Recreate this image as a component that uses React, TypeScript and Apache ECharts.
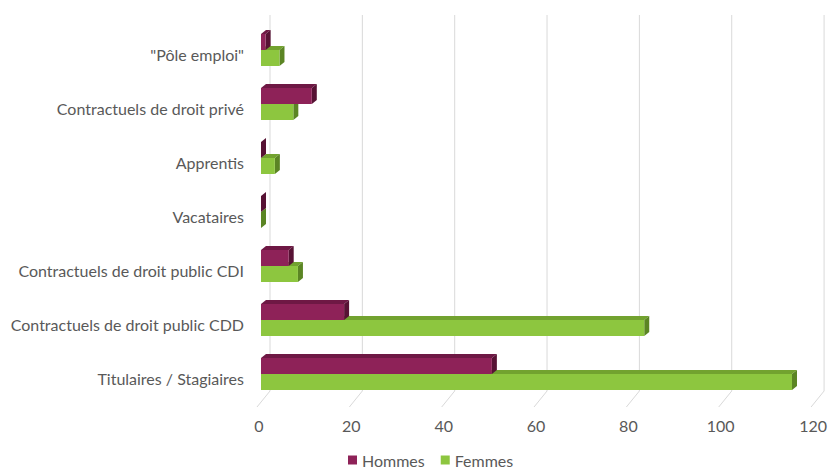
import React, { useEffect, useRef } from "react";
import * as echarts from "echarts";

const categories = [
  '"Pôle emploi"',
  "Contractuels de droit privé",
  "Apprentis",
  "Vacataires",
  "Contractuels de droit public CDI",
  "Contractuels de droit public CDD",
  "Titulaires / Stagiaires",
];
const hommes = [1, 11, 0, 0, 6, 18, 50];
const femmes = [4, 7, 3, 0, 8, 83, 115];
const xTicks = [0, 20, 40, 60, 80, 100, 120];

const BAR_H = 16;
const DX = 5;
const DY = 4;
const FONT = "Lato, 'Open Sans', sans-serif";

const palette = {
  Hommes: { front: "#8E2258", top: "#6E1844", side: "#571234" },
  Femmes: { front: "#8DC63F", top: "#72A22F", side: "#5B8524" },
};

function makeRender(offsetTop: number, c: { front: string; top: string; side: string }) {
  return (params: any, api: any) => {
    const v = api.value(0);
    const ci = api.value(1);
    const p0 = api.coord([0, ci]);
    const p1 = api.coord([v, ci]);
    const x0 = p0[0];
    const x1 = p1[0];
    const yTop = p0[1] + offsetTop;
    const yBot = yTop + BAR_H;
    return {
      type: "group",
      children: [
        {
          type: "polygon",
          shape: { points: [[x0, yTop], [x0 + DX, yTop - DY], [x1 + DX, yTop - DY], [x1, yTop]] },
          style: { fill: c.top },
        },
        {
          type: "polygon",
          shape: { points: [[x1, yTop], [x1 + DX, yTop - DY], [x1 + DX, yBot - DY], [x1, yBot]] },
          style: { fill: c.side },
        },
        {
          type: "rect",
          shape: { x: x0, y: yTop, width: Math.max(0, x1 - x0), height: BAR_H },
          style: { fill: c.front },
        },
      ],
    };
  };
}

function renderGridLine(params: any, api: any) {
  const t = api.value(0);
  const p = api.coord([t, 0]);
  const cs = params.coordSys;
  const bx = p[0] + 9;
  const topY = cs.y - 12;
  const botY = cs.y + cs.height - 14;
  return {
    type: "group",
    children: [
      {
        type: "line",
        shape: { x1: bx, y1: topY, x2: bx, y2: botY },
        style: { stroke: "#D9D9D9", lineWidth: 1 },
      },
      {
        type: "line",
        shape: { x1: bx, y1: botY, x2: bx - 13, y2: botY + 16 },
        style: { stroke: "#D9D9D9", lineWidth: 1 },
      },
    ],
  };
}

export default function App() {
  const ref = useRef<HTMLDivElement>(null);
  useEffect(() => {
    document.body.style.margin = "0";
    if (!ref.current) return;
    const chart = echarts.init(ref.current, undefined, { renderer: "svg" });
    chart.setOption({
      animation: false,
      backgroundColor: "#ffffff",
      textStyle: { fontFamily: FONT },
      grid: { left: 261, right: 9, top: 27, bottom: 70 },
      xAxis: {
        type: "value",
        min: 0,
        max: 120,
        interval: 20,
        splitLine: { show: false },
        axisLine: { show: false },
        axisTick: { show: false },
        axisLabel: {
          margin: 12,
          color: "#595959",
          fontSize: 16,
          fontFamily: FONT,
          padding: [0, 4, 0, 0],
        },
      },
      yAxis: {
        type: "category",
        data: categories,
        inverse: true,
        axisLine: { show: false },
        axisTick: { show: false },
        axisLabel: { margin: 17, color: "#595959", fontSize: 16, fontFamily: FONT },
      },
      legend: {
        data: ["Hommes", "Femmes"],
        top: 450,
        left: 346,
        padding: 2,
        icon: "rect",
        itemWidth: 9,
        itemHeight: 9,
        itemGap: 16,
        textStyle: { color: "#595959", fontSize: 16, fontFamily: FONT },
      },
      series: [
        {
          type: "custom",
          name: "grid",
          silent: true,
          z: 1,
          renderItem: renderGridLine,
          data: xTicks.map((t) => [t, 0]),
          encode: { x: 0, y: 1 },
        },
        {
          type: "custom",
          name: "Femmes",
          z: 2,
          itemStyle: { color: palette.Femmes.front },
          renderItem: makeRender(-4, palette.Femmes),
          data: femmes.map((v, i) => [v, i]),
          encode: { x: 0, y: 1 },
        },
        {
          type: "custom",
          name: "Hommes",
          z: 3,
          itemStyle: { color: palette.Hommes.front },
          renderItem: makeRender(-4 - BAR_H, palette.Hommes),
          data: hommes.map((v, i) => [v, i]),
          encode: { x: 0, y: 1 },
        },
      ],
    });
    return () => chart.dispose();
  }, []);
  return <div ref={ref} style={{ width: 830, height: 475 }} />;
}
